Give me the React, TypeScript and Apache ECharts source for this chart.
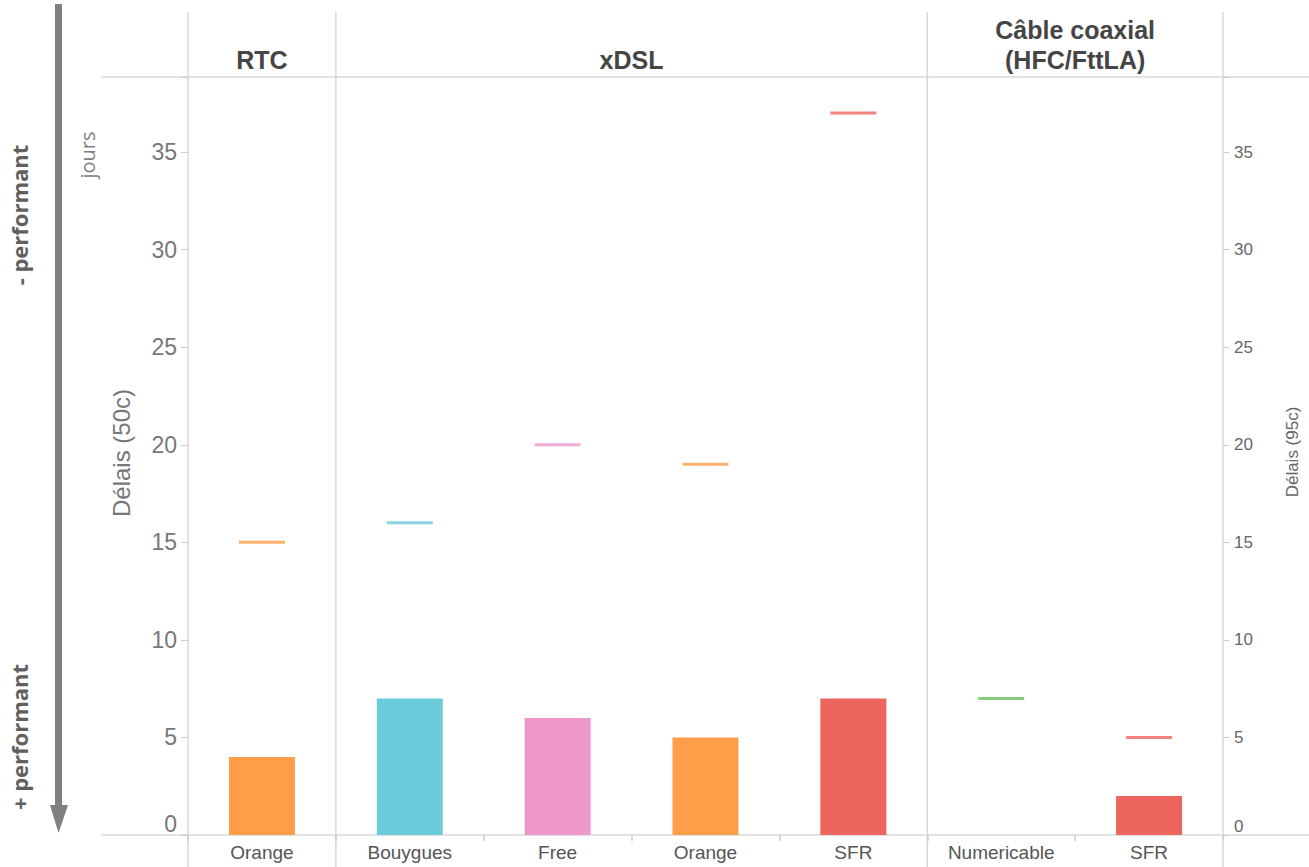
import React, { useEffect, useRef } from "react";
import * as echarts from "echarts";

const categories = ["Orange", "Bouygues", "Free", "Orange", "SFR", "Numericable", "SFR"];
const delais50 = [4, 7, 6, 5, 7, null, 2];
const delais95 = [15, 16, 20, 19, 37, 7, 5];
const colors = ["#FF9D48", "#6ACCDA", "#ED97CA", "#FF9D48", "#ED665D", "#67BF5C", "#ED665D"];
const groups = [
  { name: "RTC", from: 0, to: 1 },
  { name: "xDSL", from: 1, to: 5 },
  { name: "Câble coaxial\n(HFC/FttLA)", from: 5, to: 7 },
];

const W = 1309;
const H = 867;
const GL = 188;
const GR = 1223;
const GT = 77;
const GB = 835;
const LINE = "#d9d9d9";

export default function App() {
  const ref = useRef<HTMLDivElement>(null);
  useEffect(() => {
    if (!ref.current) return;
    const chart = echarts.init(ref.current, null, { renderer: "svg" });
    const cw = (GR - GL) / categories.length;
    const graphic: any[] = [];
    // frame lines
    graphic.push({ type: "line", shape: { x1: 101, y1: GT, x2: W, y2: GT }, style: { stroke: LINE, lineWidth: 1.5 }, z: 0 });
    graphic.push({ type: "line", shape: { x1: 101, y1: GB, x2: W, y2: GB }, style: { stroke: LINE, lineWidth: 1.5 }, z: 0 });
    const vx = [GL, ...groups.map((g) => GL + g.to * cw)];
    vx.forEach((x) => {
      graphic.push({ type: "line", shape: { x1: x, y1: 12, x2: x, y2: H }, style: { stroke: LINE, lineWidth: 1.5 }, z: 0 });
    });
    groups.forEach((g) => {
      graphic.push({
        type: "text",
        x: GL + ((g.from + g.to) / 2) * cw,
        y: g.name.includes("\n") ? 45 : 60,
        style: {
          text: g.name,
          fill: "#454545",
          font: "bold 25px 'Liberation Sans', Arial, sans-serif",
          textAlign: "center",
          textVerticalAlign: "middle",
          lineHeight: 30,
        },
      });
    });
    // arrow
    graphic.push({ type: "rect", shape: { x: 55, y: 4, width: 7, height: 804 }, style: { fill: "#808080" } });
    graphic.push({ type: "polygon", shape: { points: [[50, 805], [68, 805], [58.5, 833]] }, style: { fill: "#808080" } });
    const rot = (text: string, x: number, y: number, font: string, fill: string) => ({
      type: "text",
      x,
      y,
      rotation: Math.PI / 2,
      style: { text, font, fill, textAlign: "center", textVerticalAlign: "middle" },
    });
    graphic.push(rot("- performant", 19, 215, "bold 22px 'Open Sans', sans-serif", "#606060"));
    graphic.push(rot("+ performant", 19, 737, "bold 22px 'Open Sans', sans-serif", "#606060"));
    graphic.push(rot("jours", 87, 155, "20px 'Open Sans', sans-serif", "#808080"));
    graphic.push(rot("Délais (50c)", 121, 453, "24px 'Liberation Sans', Arial, sans-serif", "#777777"));
    graphic.push(rot("Délais (95c)", 1292, 452, "17px 'Liberation Sans', Arial, sans-serif", "#666666"));

    const yCommon = {
      type: "value",
      min: 0,
      max: 38.85,
      interval: 5,
      splitLine: { show: false },
      axisLine: { show: false },
    };

    chart.setOption({
      animation: false,
      grid: { left: GL, right: W - GR, top: GT, bottom: H - GB, containLabel: false },
      xAxis: {
        type: "category",
        data: categories,
        axisLine: { show: false },
        axisTick: { show: true, length: 6, lineStyle: { color: "#cccccc", width: 1.5 } },
        axisLabel: {
          color: "#555555",
          fontSize: 19,
          fontFamily: "'Liberation Sans', Arial, sans-serif",
          margin: 8,
          interval: 0,
        },
      },
      yAxis: [
        {
          ...yCommon,
          position: "left",
          axisTick: { show: true, length: 7, lineStyle: { color: "#cccccc" } },
          axisLabel: {
            color: "#777777",
            fontSize: 23,
            fontFamily: "'Liberation Sans', Arial, sans-serif",
            margin: 11,
            verticalAlignMinLabel: "bottom",
            formatter: (v: number) => (v % 5 === 0 ? String(v) : ""),
          },
        },
        {
          ...yCommon,
          position: "right",
          axisTick: { show: true, length: 6, lineStyle: { color: "#cccccc" } },
          axisLabel: {
            color: "#666666",
            fontSize: 17,
            fontFamily: "'Liberation Sans', Arial, sans-serif",
            margin: 11,
            verticalAlignMinLabel: "bottom",
            formatter: (v: number) => (v % 5 === 0 ? String(v) : ""),
          },
        },
      ],
      series: [
        {
          type: "bar",
          yAxisIndex: 0,
          barWidth: 66,
          data: delais50.map((v, i) => ({ value: v, itemStyle: { color: colors[i] } })),
        },
        {
          type: "scatter",
          yAxisIndex: 1,
          symbol: "rect",
          symbolSize: [46, 3],
          data: delais95.map((v, i) => ({ value: v, itemStyle: { color: colors[i] } })),
        },
      ],
      graphic,
    });
    return () => chart.dispose();
  }, []);
  return <div ref={ref} style={{ position: "absolute", left: 0, top: 0, width: W, height: H }} />;
}
